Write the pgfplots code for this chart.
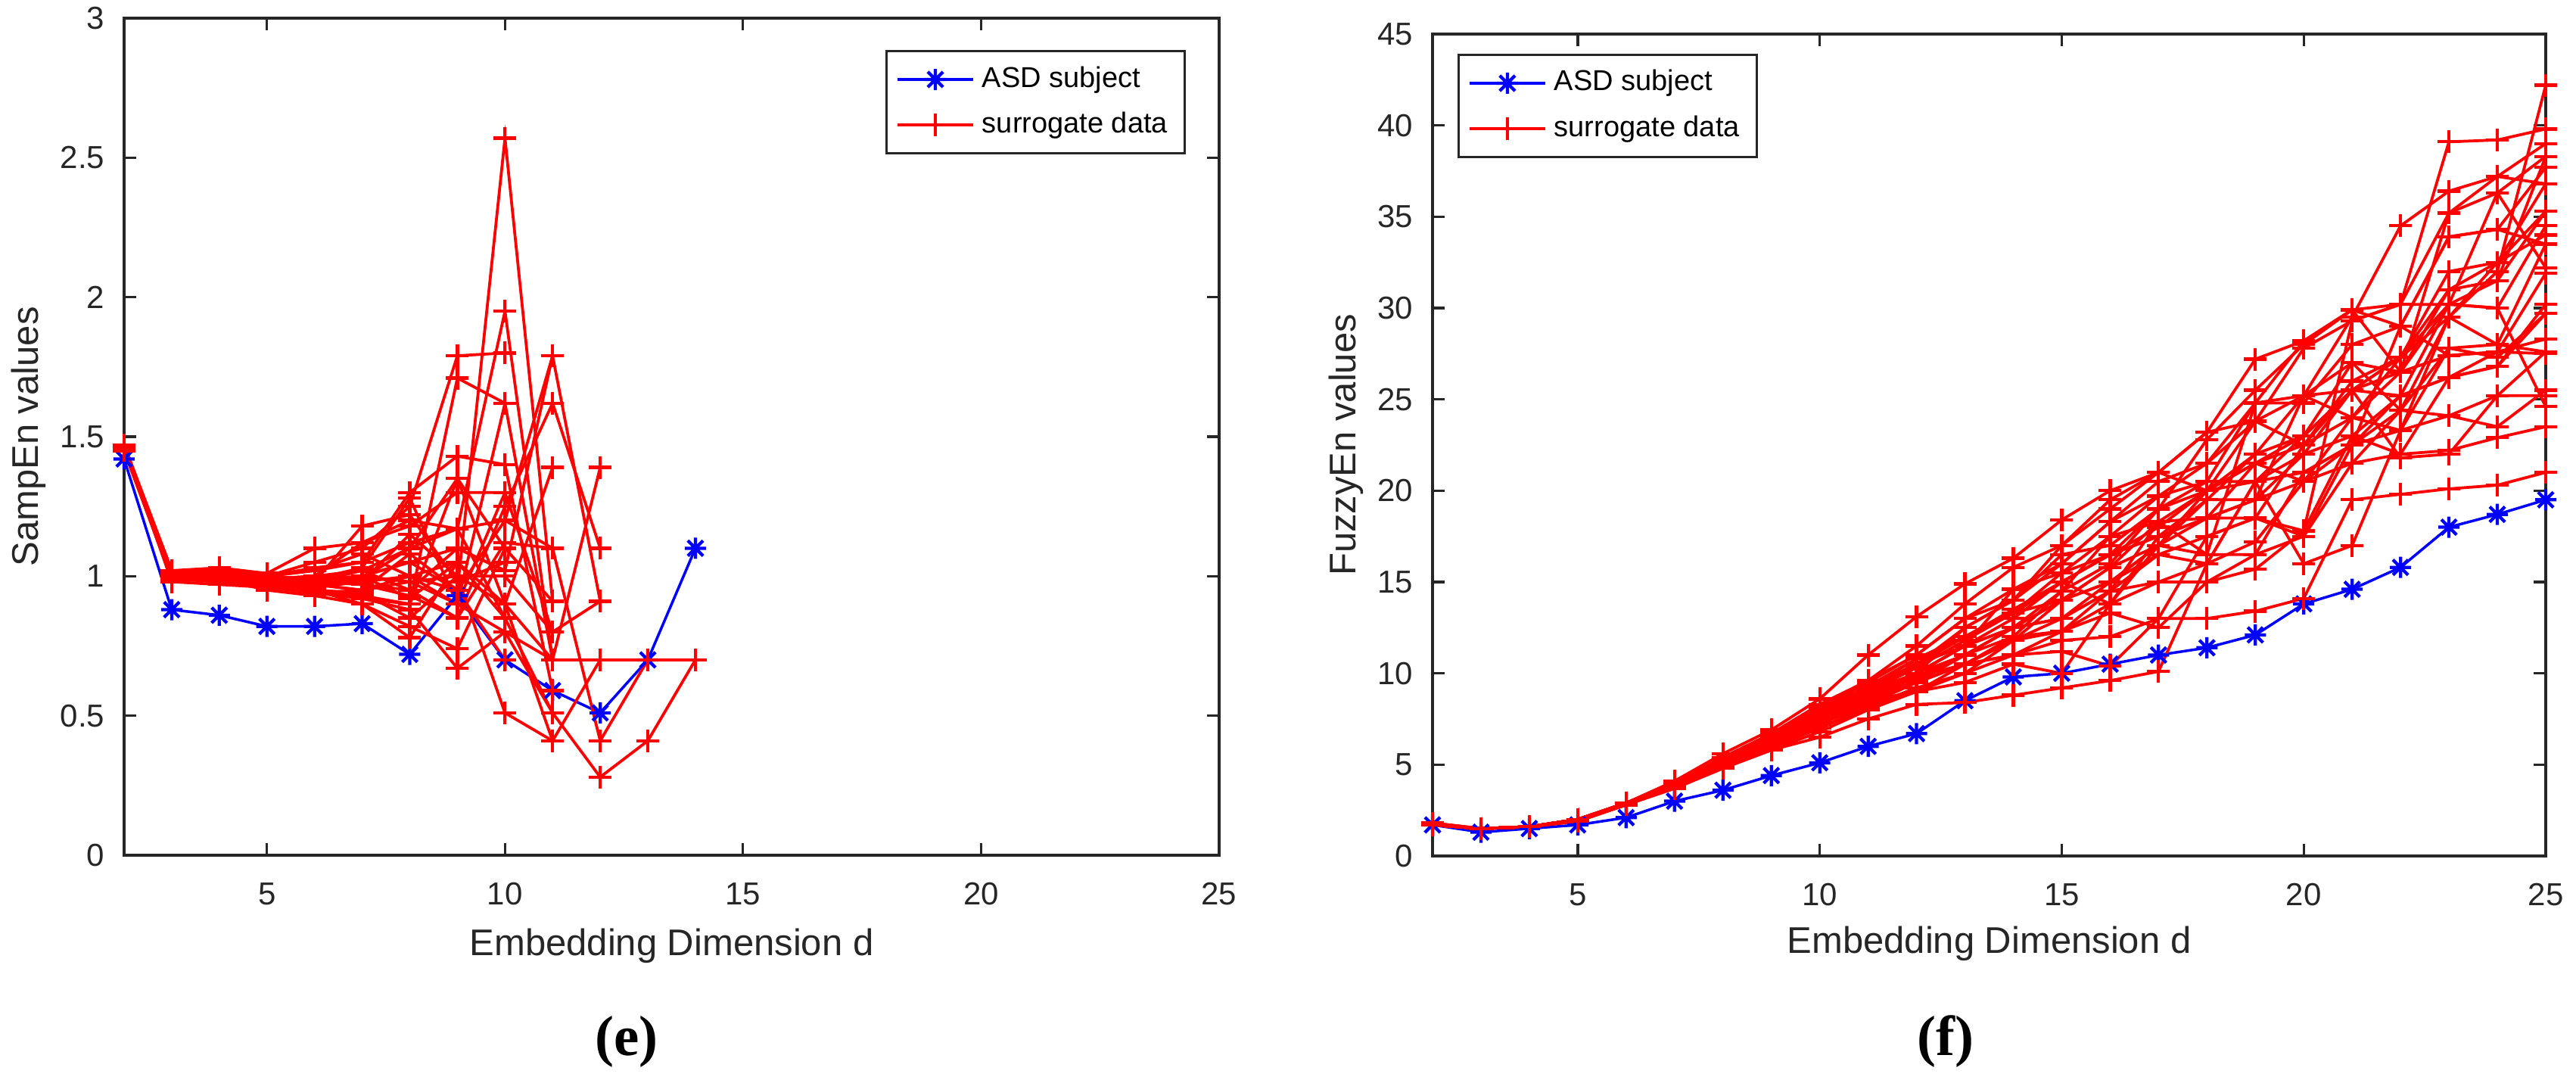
\documentclass[border=0pt]{standalone}
\usepackage{fontspec}
\setmainfont{Liberation Sans}
\newfontfamily\capfont{Liberation Serif}
\usepackage{pgfplots}
\pgfplotsset{compat=1.18}
\definecolor{axgray}{HTML}{262626}
\pgfdeclareplotmark{mast}{%
  \pgfpathmoveto{\pgfpoint{0pt}{\pgfplotmarksize}}\pgfpathlineto{\pgfpoint{0pt}{-\pgfplotmarksize}}%
  \pgfpathmoveto{\pgfpoint{\pgfplotmarksize}{0pt}}\pgfpathlineto{\pgfpoint{-\pgfplotmarksize}{0pt}}%
  \pgfpathmoveto{\pgfpoint{0.72\pgfplotmarksize}{0.72\pgfplotmarksize}}\pgfpathlineto{\pgfpoint{-0.72\pgfplotmarksize}{-0.72\pgfplotmarksize}}%
  \pgfpathmoveto{\pgfpoint{-0.72\pgfplotmarksize}{0.72\pgfplotmarksize}}\pgfpathlineto{\pgfpoint{0.72\pgfplotmarksize}{-0.72\pgfplotmarksize}}%
  \pgfusepathqstroke}
\pgfplotsset{
  asd/.style={color=blue, line width=0.7pt, mark=mast, mark size=2.8pt, mark options={line width=0.85pt, solid}},
  sur/.style={color=red, line width=0.75pt, mark=+, mark size=3pt, mark options={line width=0.85pt, solid}},
  common/.style={
    scale only axis, anchor=south west, clip=false,
    xmin=2, xmax=25, xtick={5,10,15,20,25},
    axis line style={axgray, line width=0.65pt},
    every tick/.style={axgray, line width=0.65pt},
    major tick length=3.2pt,
    tick label style={font=\fontsize{8.4}{9}\selectfont, text=axgray},
    /pgf/number format/assume math mode=true,
    xticklabel style={yshift=-3.7pt},
    yticklabel style={xshift=-1.6pt},
    label style={font=\fontsize{9.8}{11}\selectfont, text=axgray},
    legend cell align=left,
    legend style={draw=axgray, line width=0.6pt, font=\fontsize{7.6}{8.8}\selectfont, text=black,
      inner xsep=2.5pt, inner ysep=2pt, row sep=1pt,
      /tikz/every even column/.append style={column sep=1pt}},
    legend image code/.code={\draw[mark repeat=2, mark phase=2] plot coordinates {(0pt,0pt) (10pt,0pt) (20pt,0pt)};},
  }
}
\begin{document}
\begin{tikzpicture}
\path[use as bounding box] (0,0) rectangle (680.8pt,285.4pt);
\begin{axis}[common, at={(32.8pt,59.4pt)}, width=289.4pt, height=221.2pt,
  ymin=0, ymax=3, ytick={0,0.5,1,1.5,2,2.5,3},
  xlabel={Embedding Dimension d}, ylabel={SampEn values},
  xlabel style={at={(axis description cs:0.5,-0.1194)}, anchor=base},
  ylabel style={at={(axis description cs:-0.0781,0.5)}, anchor=base},
  legend style={at={(1,1)}, anchor=north east, xshift=-8.8pt, yshift=-8.4pt}]
\addplot[asd] coordinates {(2,1.42)(3,0.88)(4,0.86)(5,0.82)(6,0.82)(7,0.83)(8,0.72)(9,0.93)(10,0.70)(11,0.59)(12,0.51)(13,0.70)(14,1.10)};
\addlegendentry{ASD subject}
\addplot[sur] coordinates {(2,1.47)(3,1.00)(4,1.01)(5,0.98)(6,0.97)(7,0.95)(8,1.00)(9,0.95)(10,2.57)(11,0.91)};
\addlegendentry{surrogate data}
\addplot[sur,forget plot] coordinates {(2,1.46)(3,1.01)(4,1.00)(5,0.99)(6,0.98)(7,1.02)(8,1.10)(9,1.17)(10,1.95)(11,0.70)(12,1.39)};
\addplot[sur,forget plot] coordinates {(2,1.47)(3,1.02)(4,1.02)(5,1.00)(6,1.05)(7,1.10)(8,1.25)(9,1.79)(10,1.80)};
\addplot[sur,forget plot] coordinates {(2,1.45)(3,0.99)(4,0.98)(5,0.96)(6,0.95)(7,0.92)(8,0.90)(9,1.71)(10,1.62)(11,0.70)};
\addplot[sur,forget plot] coordinates {(2,1.47)(3,1.00)(4,1.00)(5,0.97)(6,0.96)(7,1.00)(8,1.05)(9,1.10)(10,1.02)(11,1.79)(12,0.91)};
\addplot[sur,forget plot] coordinates {(2,1.46)(3,1.01)(4,1.01)(5,1.00)(6,1.02)(7,1.05)(8,1.30)(9,1.43)(10,1.40)(11,0.59)};
\addplot[sur,forget plot] coordinates {(2,1.47)(3,1.00)(4,0.99)(5,0.98)(6,0.98)(7,0.97)(8,0.95)(9,0.85)(10,1.25)(11,1.62)(12,1.10)};
\addplot[sur,forget plot] coordinates {(2,1.46)(3,1.02)(4,1.00)(5,0.97)(6,0.95)(7,0.93)(8,0.90)(9,1.35)(10,0.90)(11,1.39)};
\addplot[sur,forget plot] coordinates {(2,1.47)(3,1.00)(4,1.01)(5,1.00)(6,0.99)(7,1.00)(8,0.98)(9,1.00)(10,0.51)(11,0.41)(12,0.70)};
\addplot[sur,forget plot] coordinates {(2,1.46)(3,1.01)(4,1.00)(5,0.99)(6,1.00)(7,0.98)(8,1.00)(9,1.05)(10,0.85)(11,0.51)(12,0.28)(13,0.41)(14,0.70)};
\addplot[sur,forget plot] coordinates {(2,1.47)(3,1.00)(4,1.02)(5,1.01)(6,0.97)(7,0.95)(8,0.98)(9,0.90)(10,0.80)(11,0.70)(12,0.70)(13,0.70)(14,0.70)};
\addplot[sur,forget plot] coordinates {(2,1.47)(3,0.99)(4,0.99)(5,0.95)(6,0.93)(7,0.90)(8,0.82)(9,0.74)(10,1.10)};
\addplot[sur,forget plot] coordinates {(2,1.45)(3,1.00)(4,1.00)(5,0.98)(6,1.00)(7,1.12)(8,1.18)(9,1.30)(10,1.30)(11,0.80)};
\addplot[sur,forget plot] coordinates {(2,1.46)(3,1.02)(4,1.03)(5,1.01)(6,1.10)(7,1.12)(8,1.20)(9,1.17)(10,0.85)};
\addplot[sur,forget plot] coordinates {(2,1.47)(3,0.98)(4,0.97)(5,0.96)(6,0.94)(7,0.92)(8,0.88)(9,0.67)(10,0.80)(11,0.51)};
\addplot[sur,forget plot] coordinates {(2,1.46)(3,1.01)(4,1.00)(5,1.00)(6,0.98)(7,1.00)(8,1.05)(9,0.95)(10,1.20)(11,1.10)(12,0.41)(13,0.70)};
\addplot[sur,forget plot] coordinates {(2,1.47)(3,1.00)(4,0.99)(5,0.97)(6,1.00)(7,1.02)(8,0.95)(9,1.10)(10,1.02)};
\addplot[sur,forget plot] coordinates {(2,1.46)(3,1.02)(4,1.01)(5,0.99)(6,0.96)(7,0.98)(8,1.15)(9,1.00)(10,0.90)(11,0.41)};
\addplot[sur,forget plot] coordinates {(2,1.47)(3,1.00)(4,1.00)(5,1.00)(6,1.02)(7,1.08)(8,1.00)(9,0.90)(10,1.30)};
\addplot[sur,forget plot] coordinates {(2,1.46)(3,0.99)(4,0.98)(5,0.97)(6,0.95)(7,0.90)(8,0.78)(9,1.05)};
\addplot[sur,forget plot] coordinates {(2,1.47)(3,1.01)(4,1.00)(5,0.98)(6,0.97)(7,0.99)(8,1.10)(9,1.35)(10,1.10)(11,0.91)};
\addplot[sur,forget plot] coordinates {(2,1.45)(3,1.00)(4,0.99)(5,0.96)(6,0.94)(7,0.95)(8,1.08)(9,0.95)(10,0.70)};
\addplot[sur,forget plot] coordinates {(2,1.47)(3,1.00)(4,1.01)(5,1.00)(6,1.03)(7,1.05)(8,1.12)(9,1.17)(10,1.20)(11,1.79)};
\addplot[sur,forget plot] coordinates {(2,1.46)(3,1.00)(4,0.99)(5,0.97)(6,0.96)(7,1.00)(8,0.92)(9,1.05)(10,0.90)(11,0.70)(12,0.70)};
\addplot[sur,forget plot] coordinates {(2,1.47)(3,1.01)(4,1.00)(5,0.98)(6,0.99)(7,1.03)(8,1.28)(9,0.90)(10,1.62)};
\addplot[sur,forget plot] coordinates {(2,1.46)(3,1.00)(4,0.99)(5,0.99)(6,1.00)(7,0.97)(8,0.93)(9,0.85)(10,1.12)(11,1.10)};
\addplot[sur,forget plot] coordinates {(2,1.47)(3,1.02)(4,1.01)(5,1.00)(6,0.98)(7,1.18)(8,1.22)(9,0.98)(10,1.05)};
\addplot[sur,forget plot] coordinates {(2,1.46)(3,1.00)(4,0.98)(5,0.96)(6,0.95)(7,0.94)(8,0.85)(9,1.00)(10,1.00)(11,0.80)(12,0.91)};
\end{axis}
\begin{axis}[common, at={(378.6pt,59.2pt)}, width=294.2pt, height=217.2pt,
  ymin=0, ymax=45, ytick={0,5,10,15,20,25,30,35,40,45},
  xlabel={Embedding Dimension d}, ylabel={FuzzyEn values},
  xlabel style={at={(axis description cs:0.5,-0.118)}, anchor=base},
  ylabel style={at={(axis description cs:-0.0687,0.5)}, anchor=base},
  legend style={at={(0,1)}, anchor=north west, xshift=6.6pt, yshift=-5.2pt}]
\addplot[asd] coordinates {(2,1.7)(3,1.3)(4,1.5)(5,1.7)(6,2.1)(7,3.0)(8,3.6)(9,4.4)(10,5.1)(11,6.0)(12,6.7)(13,8.5)(14,9.8)(15,10.0)(16,10.5)(17,11.0)(18,11.4)(19,12.1)(20,13.8)(21,14.6)(22,15.8)(23,18.0)(24,18.7)(25,19.5)};
\addlegendentry{ASD subject}
\addplot[sur] coordinates {(2,1.8)(3,1.5)(4,1.6)(5,2.0)(6,2.9)(7,3.9)(8,5.2)(9,6.4)(10,7.8)(11,9.2)(12,10.8)(13,12.0)(14,13.5)(15,15.0)(16,16.5)(17,18.0)(18,20.0)(19,21.5)(20,23.0)(21,25.5)(22,27.3)(23,29.5)(24,32.0)(25,42.2)};
\addlegendentry{surrogate data}
\addplot[sur,forget plot] coordinates {(2,1.7)(3,1.5)(4,1.6)(5,2.0)(6,2.9)(7,3.9)(8,5.3)(9,6.6)(10,8.2)(11,9.6)(12,11.5)(13,13.8)(14,15.8)(15,17.0)(16,19.0)(17,21.0)(18,23.2)(19,27.2)(20,28.2)(21,29.9)(22,30.2)(23,39.1)(24,39.2)(25,39.8)};
\addplot[sur,forget plot] coordinates {(2,1.7)(3,1.5)(4,1.6)(5,2.0)(6,2.8)(7,3.8)(8,5.0)(9,6.2)(10,7.5)(11,8.8)(12,10.5)(13,12.0)(14,13.3)(15,15.5)(16,17.5)(17,19.7)(18,20.5)(19,24.8)(20,25.2)(21,29.5)(22,34.5)(23,36.4)(24,37.2)(25,39.0)};
\addplot[sur,forget plot] coordinates {(2,1.8)(3,1.5)(4,1.6)(5,2.0)(6,2.9)(7,4.0)(8,5.4)(9,6.7)(10,8.3)(11,9.6)(12,11.0)(13,13.0)(14,14.6)(15,16.0)(16,18.3)(17,20.5)(18,21.5)(19,23.8)(20,27.8)(21,29.3)(22,30.2)(23,35.2)(24,36.3)(25,38.3)};
\addplot[sur,forget plot] coordinates {(2,1.7)(3,1.5)(4,1.6)(5,2.0)(6,2.8)(7,3.8)(8,5.1)(9,6.3)(10,7.6)(11,9.0)(12,10.0)(13,12.5)(14,14.0)(15,16.5)(16,17.0)(17,19.0)(18,22.8)(19,25.5)(20,28.0)(21,29.9)(22,29.0)(23,33.9)(24,34.3)(25,37.7)};
\addplot[sur,forget plot] coordinates {(2,1.7)(3,1.5)(4,1.6)(5,1.9)(6,2.8)(7,3.8)(8,5.0)(9,6.0)(10,7.2)(11,8.5)(12,9.5)(13,11.0)(14,12.5)(15,14.0)(16,15.8)(17,18.3)(18,20.0)(19,22.0)(20,23.0)(21,25.5)(22,27.3)(23,32.0)(24,32.5)(25,36.8)};
\addplot[sur,forget plot] coordinates {(2,1.7)(3,1.5)(4,1.6)(5,2.0)(6,2.9)(7,3.9)(8,5.2)(9,6.5)(10,8.0)(11,9.3)(12,10.5)(13,11.5)(14,13.0)(15,15.0)(16,16.5)(17,17.5)(18,18.5)(19,21.5)(20,22.5)(21,24.0)(22,26.5)(23,31.0)(24,31.5)(25,35.3)};
\addplot[sur,forget plot] coordinates {(2,1.8)(3,1.5)(4,1.6)(5,2.0)(6,2.9)(7,4.1)(8,5.6)(9,6.9)(10,8.6)(11,11.0)(12,13.1)(13,14.9)(14,16.3)(15,18.4)(16,20.0)(17,21.0)(18,20.0)(19,20.5)(20,22.0)(21,23.0)(22,25.2)(23,30.2)(24,30.0)(25,34.5)};
\addplot[sur,forget plot] coordinates {(2,1.7)(3,1.5)(4,1.6)(5,2.0)(6,2.8)(7,3.8)(8,5.0)(9,6.1)(10,7.4)(11,8.6)(12,9.8)(13,11.0)(14,12.5)(15,13.0)(16,15.0)(17,17.0)(18,19.5)(19,22.0)(20,25.2)(21,27.0)(22,24.4)(23,29.5)(24,32.5)(25,34.0)};
\addplot[sur,forget plot] coordinates {(2,1.7)(3,1.5)(4,1.6)(5,2.0)(6,2.9)(7,3.9)(8,5.2)(9,6.5)(10,7.9)(11,9.2)(12,10.5)(13,12.0)(14,13.3)(15,15.0)(16,16.5)(17,19.0)(18,20.5)(19,20.5)(20,21.0)(21,22.5)(22,23.3)(23,27.8)(24,28.0)(25,33.5)};
\addplot[sur,forget plot] coordinates {(2,1.7)(3,1.5)(4,1.6)(5,2.0)(6,2.8)(7,3.8)(8,5.0)(9,6.2)(10,7.5)(11,8.8)(12,10.0)(13,11.0)(14,12.0)(15,14.5)(16,17.5)(17,18.3)(18,18.5)(19,19.5)(20,20.5)(21,24.0)(22,27.3)(23,30.2)(24,36.3)(25,32.2)};
\addplot[sur,forget plot] coordinates {(2,1.7)(3,1.5)(4,1.6)(5,2.0)(6,2.9)(7,3.9)(8,5.1)(9,6.3)(10,7.7)(11,9.0)(12,10.3)(13,11.8)(14,13.3)(15,14.0)(16,15.0)(17,16.5)(18,17.5)(19,18.5)(20,22.5)(21,25.5)(22,26.5)(23,27.4)(24,27.6)(25,31.9)};
\addplot[sur,forget plot] coordinates {(2,1.7)(3,1.5)(4,1.6)(5,1.9)(6,2.8)(7,3.7)(8,4.8)(9,5.8)(10,6.8)(11,8.0)(12,9.0)(13,10.5)(14,12.0)(15,12.3)(16,13.8)(17,17.0)(18,16.5)(19,16.5)(20,17.5)(21,22.5)(22,25.2)(23,26.2)(24,26.8)(25,30.2)};
\addplot[sur,forget plot] coordinates {(2,1.7)(3,1.5)(4,1.6)(5,2.0)(6,2.9)(7,3.9)(8,5.2)(9,6.4)(10,7.8)(11,9.0)(12,10.0)(13,11.5)(14,12.5)(15,13.0)(16,14.5)(17,15.0)(18,16.0)(19,17.2)(20,20.5)(21,21.5)(22,24.4)(23,27.8)(24,27.3)(25,29.7)};
\addplot[sur,forget plot] coordinates {(2,1.7)(3,1.5)(4,1.6)(5,2.0)(6,2.8)(7,3.8)(8,5.0)(9,6.1)(10,7.3)(11,8.5)(12,9.5)(13,10.5)(14,11.8)(15,12.3)(16,13.3)(17,12.5)(18,15.0)(19,15.7)(20,17.8)(21,23.0)(22,22.0)(23,26.2)(24,27.6)(25,28.3)};
\addplot[sur,forget plot] coordinates {(2,1.7)(3,1.5)(4,1.6)(5,2.0)(6,2.8)(7,3.8)(8,4.9)(9,5.9)(10,7.0)(11,8.2)(12,9.2)(13,10.0)(14,11.0)(15,11.8)(16,12.0)(17,13.0)(18,13.0)(19,13.4)(20,14.1)(21,19.5)(22,19.8)(23,20.1)(24,20.3)(25,21.0)};
\addplot[sur,forget plot] coordinates {(2,1.7)(3,1.5)(4,1.6)(5,1.9)(6,2.8)(7,3.7)(8,4.8)(9,5.8)(10,6.5)(11,7.5)(12,8.3)(13,8.4)(14,8.8)(15,9.2)(16,9.6)(17,10.1)(18,16.0)(19,20.5)(20,16.0)(21,17.0)(22,23.3)(23,29.5)(24,28.0)(25,27.6)};
\addplot[sur,forget plot] coordinates {(2,1.7)(3,1.5)(4,1.6)(5,2.0)(6,2.9)(7,3.9)(8,5.2)(9,6.4)(10,7.6)(11,8.8)(12,9.5)(13,10.5)(14,11.0)(15,11.2)(16,10.4)(17,13.0)(18,17.5)(19,18.5)(20,17.5)(21,21.5)(22,22.0)(23,22.2)(24,22.9)(25,23.5)};
\addplot[sur,forget plot] coordinates {(2,1.7)(3,1.5)(4,1.6)(5,2.0)(6,2.8)(7,3.8)(8,5.0)(9,6.2)(10,7.4)(11,8.5)(12,9.0)(13,9.5)(14,10.5)(15,10.0)(16,13.8)(17,15.0)(18,15.0)(19,16.5)(20,21.0)(21,22.5)(22,24.4)(23,24.1)(24,23.5)(25,25.5)};
\addplot[sur,forget plot] coordinates {(2,1.7)(3,1.5)(4,1.6)(5,2.0)(6,2.9)(7,3.9)(8,5.1)(9,6.3)(10,7.6)(11,8.8)(12,10.0)(13,11.5)(14,14.6)(15,15.5)(16,16.5)(17,17.5)(18,18.5)(19,19.5)(20,22.0)(21,25.5)(22,21.8)(23,22.0)(24,25.2)(25,25.2)};
\addplot[sur,forget plot] coordinates {(2,1.7)(3,1.5)(4,1.6)(5,2.0)(6,2.9)(7,4.0)(8,5.3)(9,6.6)(10,8.1)(11,9.5)(12,11.0)(13,13.0)(14,14.0)(15,16.0)(16,18.3)(17,19.7)(18,21.5)(19,24.8)(20,24.8)(21,28.0)(22,29.0)(23,27.4)(24,27.6)(25,27.5)};
\addplot[sur,forget plot] coordinates {(2,1.7)(3,1.5)(4,1.6)(5,2.0)(6,2.8)(7,3.8)(8,5.0)(9,6.2)(10,7.2)(11,8.3)(12,9.5)(13,10.5)(14,11.8)(15,13.0)(16,14.5)(17,16.5)(18,16.0)(19,20.5)(20,23.0)(21,27.0)(22,26.5)(23,30.2)(24,30.0)(25,24.6)};
\addplot[sur,forget plot] coordinates {(2,1.7)(3,1.5)(4,1.6)(5,2.0)(6,2.9)(7,3.9)(8,5.2)(9,6.4)(10,7.8)(11,9.1)(12,10.5)(13,12.5)(14,14.0)(15,17.0)(16,19.5)(17,21.0)(18,23.2)(19,23.8)(20,22.5)(21,26.0)(22,27.3)(23,31.0)(24,32.5)(25,35.3)};
\addplot[sur,forget plot] coordinates {(2,1.7)(3,1.5)(4,1.6)(5,2.0)(6,2.8)(7,3.8)(8,5.0)(9,6.2)(10,7.3)(11,8.5)(12,9.6)(13,11.0)(14,12.5)(15,14.5)(16,16.0)(17,19.0)(18,20.0)(19,21.5)(20,20.5)(21,22.5)(22,29.0)(23,33.9)(24,34.3)(25,33.5)};
\addplot[sur,forget plot] coordinates {(2,1.7)(3,1.5)(4,1.6)(5,2.0)(6,2.9)(7,3.9)(8,5.2)(9,6.5)(10,7.9)(11,9.3)(12,10.8)(13,12.0)(14,13.3)(15,15.0)(16,13.8)(17,17.5)(18,19.5)(19,19.5)(20,25.2)(21,24.0)(22,23.3)(23,24.1)(24,25.2)(25,27.6)};
\addplot[sur,forget plot] coordinates {(2,1.7)(3,1.5)(4,1.6)(5,2.0)(6,2.8)(7,3.8)(8,5.0)(9,6.2)(10,7.4)(11,8.7)(12,10.0)(13,11.5)(14,12.5)(15,14.0)(16,15.8)(17,17.0)(18,18.5)(19,18.5)(20,17.8)(21,29.3)(22,30.2)(23,30.2)(24,31.5)(25,38.3)};
\addplot[sur,forget plot] coordinates {(2,1.7)(3,1.5)(4,1.6)(5,2.0)(6,2.9)(7,3.9)(8,5.1)(9,6.3)(10,7.5)(11,8.7)(12,9.8)(13,10.5)(14,11.0)(15,12.3)(16,14.5)(17,18.3)(18,16.5)(19,24.8)(20,28.2)(21,29.9)(22,26.5)(23,35.2)(24,37.2)(25,36.8)};
\addplot[sur,forget plot] coordinates {(2,1.7)(3,1.5)(4,1.6)(5,2.0)(6,2.8)(7,3.8)(8,5.0)(9,6.0)(10,7.0)(11,8.1)(12,9.0)(13,10.0)(14,11.8)(15,14.0)(16,15.0)(17,17.0)(18,20.0)(19,23.8)(20,25.2)(21,25.5)(22,25.2)(23,26.2)(24,26.8)(25,29.7)};
\end{axis}
\node[font=\capfont\bfseries\fontsize{15}{17}\selectfont] at (165.6pt,10.2pt) {(e)};
\node[font=\capfont\bfseries\fontsize{15}{17}\selectfont] at (514.2pt,10.2pt) {(f)};
\end{tikzpicture}
\end{document}
